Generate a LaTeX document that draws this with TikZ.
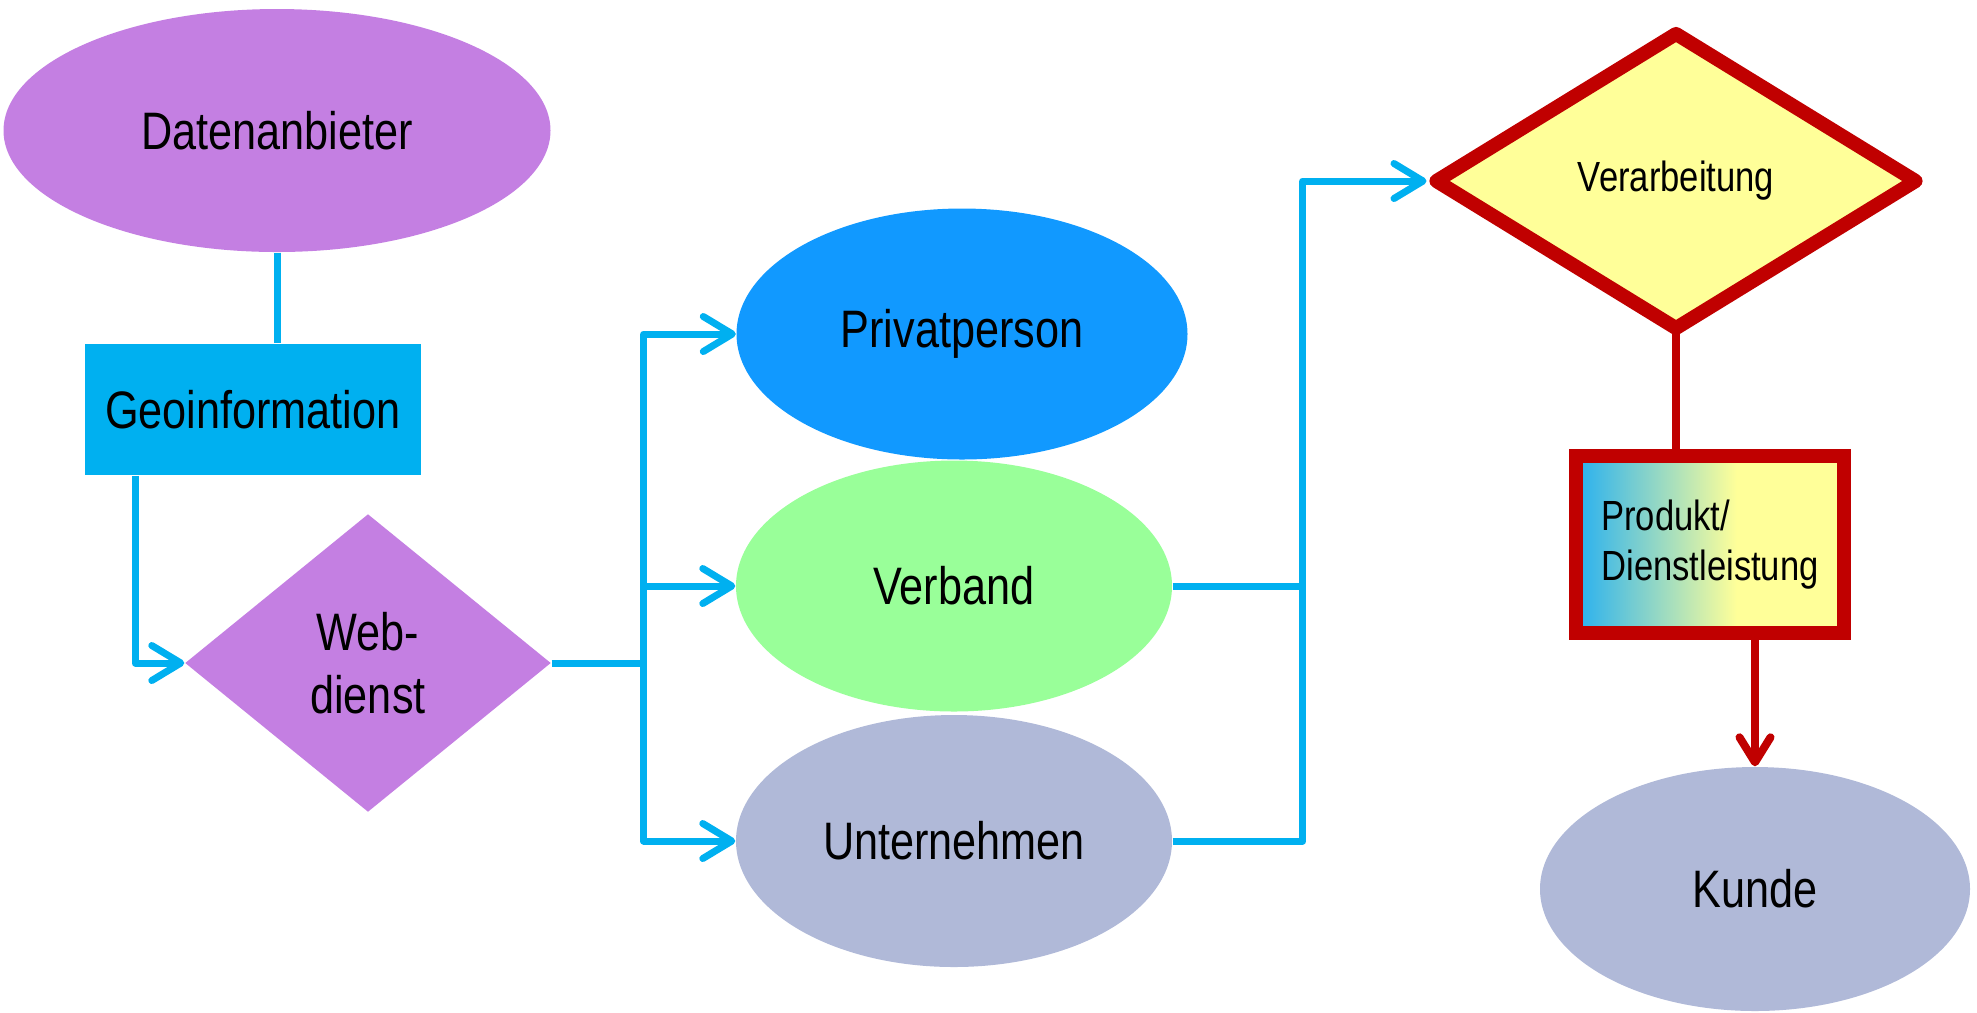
\documentclass[tikz,border=0pt]{standalone}
\usepackage{fontspec}
\setmainfont[FakeStretch=0.82]{Liberation Sans}
\usetikzlibrary{shapes.geometric,arrows.meta}
\definecolor{purp}{RGB}{196,127,226}
\definecolor{cyanb}{RGB}{0,176,240}
\definecolor{ppblue}{RGB}{17,153,255}
\definecolor{vgreen}{RGB}{153,255,153}
\definecolor{grayblue}{RGB}{176,185,216}
\definecolor{dred}{RGB}{192,0,0}
\definecolor{lyel}{RGB}{255,255,153}
\definecolor{gblue}{RGB}{40,176,240}
\pgfdeclarehorizontalshading{prodshade}{100bp}{color(0bp)=(gblue); color(25bp)=(gblue); color(55bp)=(lyel); color(100bp)=(lyel)}
\begin{document}
\begin{tikzpicture}[
  big/.style={font=\fontsize{15}{18}\selectfont},
  small/.style={font=\fontsize{12}{14.2}\selectfont},
  ell/.style={ellipse, inner sep=0pt, big},
  conn/.style={draw=cyanb, line width=0.07cm, line join=round},
  arr/.style={conn, -{Straight Barb[length=2.9mm,width=3.5mm,round]}},
  rconn/.style={draw=dred, line width=0.08cm},
  rarr/.style={rconn, -{Straight Barb[length=2.5mm,width=3.1mm,round]}}
]
\useasboundingbox (0,0) rectangle (19.77,-10.12);

\node[ell, fill=purp, minimum width=5.47cm, minimum height=2.43cm] (dat) at (2.77,-1.305) {Datenanbieter};
\node[rectangle, fill=cyanb, inner sep=0pt, minimum width=3.365cm, minimum height=1.31cm, big] (geo) at (2.528,-4.095) {Geoinformation};
\node[diamond, fill=purp, inner sep=0pt, minimum width=3.66cm, minimum height=2.98cm, align=center, big] (web) at (3.68,-6.63) {Web-\\dienst};

\node[ell, fill=ppblue, minimum width=4.51cm, minimum height=2.51cm] (pp) at (9.62,-3.34) {Privatperson};
\node[ell, fill=vgreen, minimum width=4.36cm, minimum height=2.51cm] (vb) at (9.54,-5.86) {Verband};
\node[ell, fill=grayblue, minimum width=4.36cm, minimum height=2.52cm] (un) at (9.54,-8.41) {Unternehmen};

\node[diamond, draw=dred, fill=lyel, line width=0.14cm, line join=round, inner sep=0pt, minimum width=4.85cm, minimum height=3.00cm, small] (ver) at (16.76,-1.81) {Verarbeitung};
\node[rectangle, draw=dred, shading=prodshade, line width=0.14cm, inner sep=0pt, minimum width=2.68cm, minimum height=1.77cm, align=left, small] (prod) at (17.10,-5.445) {Produkt/\\Dienstleistung};
\node[ell, fill=grayblue, minimum width=4.30cm, minimum height=2.44cm] (kd) at (17.55,-8.89) {Kunde};

% connectors
\draw[conn] (dat.south) -- (dat.south |- geo.north);
\coordinate (g1) at ([xshift=0.515cm]geo.south west);
\draw[arr] (g1) |- (web.west);

\coordinate (j1) at ([xshift=0.92cm]web.east);
\draw[conn] (web.east) -- (j1);
\draw[arr] (j1) |- (pp.west);
\draw[arr] (j1) |- (vb.west);
\draw[arr] (j1) |- (un.west);

\coordinate (j2) at ([xshift=1.30cm]vb.east);
\draw[conn] (vb.east) -- (j2);
\draw[arr] (un.east) -| (j2) |- (ver.west);

\draw[rconn] ([yshift=0.1cm]ver.south) -- (ver.south |- prod.north);
\draw[rarr] (kd.north |- prod.south) -- (kd.north);
\end{tikzpicture}
\end{document}
